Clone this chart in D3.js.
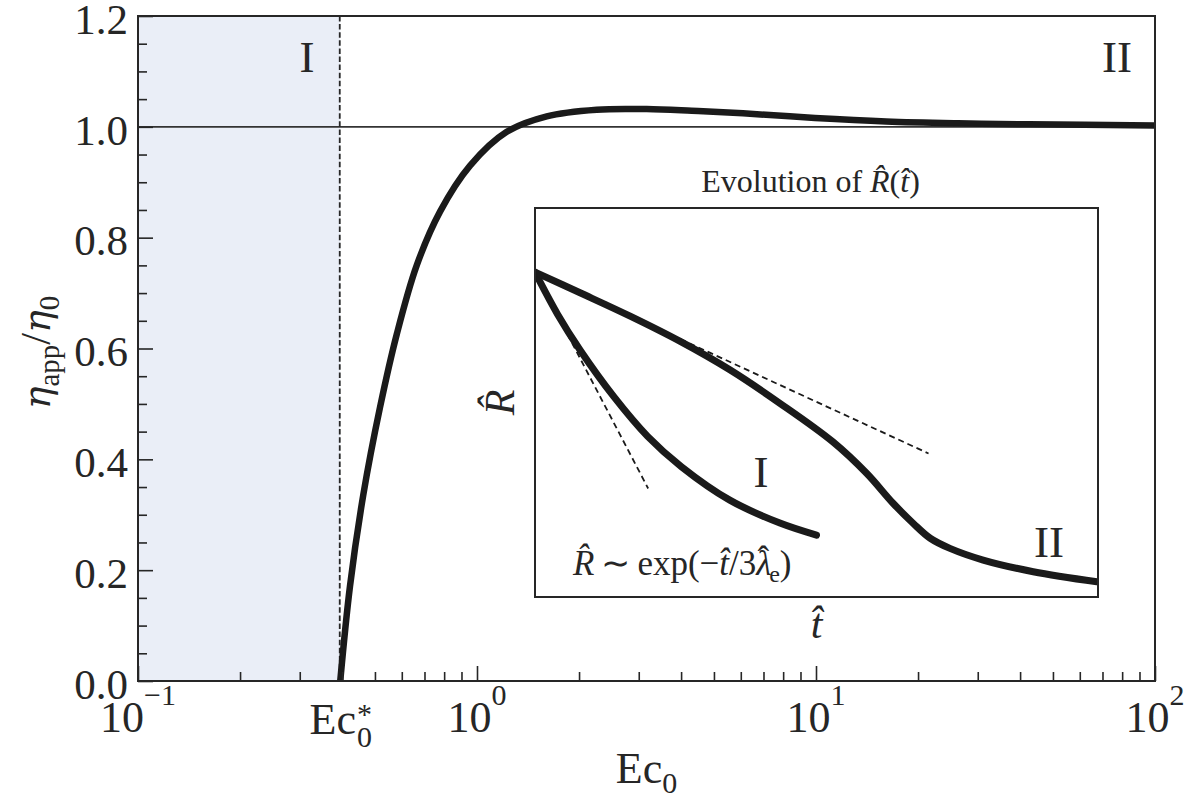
<!DOCTYPE html>
<html>
<head>
<meta charset="utf-8">
<script src="https://cdn.jsdelivr.net/npm/d3@7"></script>
<style>
  body { margin: 0; background: #fff; }
  text { font-family: "Liberation Serif", serif; fill: #262626; }
</style>
</head>
<body>
<svg id="chart" width="1195" height="798"></svg>
<script>
// main curve: apparent viscosity ratio vs Ec0
const ecValues = [0.395, 0.422, 0.462, 0.518, 0.58, 0.664, 0.778, 0.954, 1.224, 1.606, 2.255, 3.166, 4.3, 6.09, 9.93, 16.1, 26.2, 42.5, 100];
const etaRatio = [0, 0.171, 0.336, 0.495, 0.626, 0.75, 0.847, 0.93, 0.991, 1.019, 1.031, 1.032, 1.029, 1.0245, 1.016, 1.0097, 1.0064, 1.0045, 1.0026];
const ecStar = 0.395;

const yMajorTicks = [0, 0.2, 0.4, 0.6, 0.8, 1.0, 1.2];
const yTickLabels = ['0.0', '0.2', '0.4', '0.6', '0.8', '1.0', '1.2'];
const xMajorTicks = [0.1, 1, 10, 100];
const xTickExponents = ['\u22121', '0', '1', '2'];

// inset: R(t) in arbitrary units (0..1 on both axes)
const insetT_I = [0, 0.04, 0.08, 0.14, 0.2, 0.26, 0.346, 0.435, 0.5];
const insetR_I = [0.835, 0.727, 0.635, 0.515, 0.413, 0.335, 0.249, 0.19, 0.159];
const insetT_II = [0, 0.08, 0.169, 0.258, 0.346, 0.435, 0.529, 0.589, 0.636, 0.672, 0.702, 0.737, 0.796, 0.885, 0.998];
const insetR_II = [0.835, 0.782, 0.722, 0.657, 0.584, 0.498, 0.399, 0.318, 0.241, 0.189, 0.151, 0.125, 0.095, 0.065, 0.039];
const tangentSteepT = [0, 0.201];
const tangentSteepR = [0.835, 0.279];
const tangentShallowT = [0, 0.699];
const tangentShallowR = [0.835, 0.369];

const svg = d3.select('#chart');
const plotLeft = 138, plotRight = 1155, plotTop = 16, plotBottom = 681;
const ink = '#262626';

const x = d3.scaleLog().domain([0.1, 100]).range([plotLeft, plotRight]);
const y = d3.scaleLinear().domain([0, 1.2]).range([plotBottom, plotTop]);

const defs = svg.append('defs');

// region I shading
svg.append('rect')
  .attr('x', x(0.1))
  .attr('y', plotTop)
  .attr('width', x(ecStar) - x(0.1))
  .attr('height', plotBottom - plotTop)
  .attr('fill', '#eaeef7');

defs.append('clipPath').attr('id', 'plot-clip')
  .append('rect')
  .attr('x', plotLeft).attr('y', plotTop)
  .attr('width', plotRight - plotLeft).attr('height', plotBottom - plotTop);

// reference line at 1
svg.append('line')
  .attr('x1', plotLeft).attr('x2', plotRight)
  .attr('y1', y(1)).attr('y2', y(1))
  .attr('stroke', '#333').attr('stroke-width', 1.6);

// Ec* dashed line
svg.append('line')
  .attr('x1', x(ecStar) - 0.5).attr('x2', x(ecStar) - 0.5)
  .attr('y1', plotTop).attr('y2', plotBottom)
  .attr('stroke', ink).attr('stroke-width', 1.8)
  .attr('stroke-dasharray', '5.5,2.6');

const mainData = ecValues.map((d, i) => ({ ec: d, eta: etaRatio[i] }));
const mainLine = d3.line()
  .x(d => x(d.ec))
  .y(d => y(d.eta))
  .curve(d3.curveCatmullRom.alpha(0.5));

svg.append('path')
  .datum(mainData)
  .attr('clip-path', 'url(#plot-clip)')
  .attr('fill', 'none')
  .attr('stroke', '#1a1a1a')
  .attr('stroke-width', 6.5)
  .attr('d', mainLine);

// Axes (ticks inside, labels drawn separately where needed)
const yMinor = d3.range(0, 1.2001, 0.05).filter(v => Math.abs(v / 0.2 - Math.round(v / 0.2)) > 1e-6);

const yAxis = svg.append('g')
  .attr('transform', `translate(${plotLeft},0)`)
  .call(d3.axisLeft(y).tickValues(yMajorTicks).tickSize(-15).tickPadding(10)
    .tickFormat((d, i) => yTickLabels[i]));
yAxis.selectAll('text')
  .attr('dy', '0.4em')
  .style('font-size', '43px').attr('fill', ink).style('font-family', '"Liberation Serif", serif');

const yMinorAxis = svg.append('g')
  .attr('transform', `translate(${plotLeft},0)`)
  .call(d3.axisLeft(y).tickValues(yMinor).tickSize(-9).tickFormat(''));

const xMinor = [];
[0.1, 1, 10].forEach(dec => { for (let k = 2; k <= 9; k++) xMinor.push(k * dec); });

const xAxis = svg.append('g')
  .attr('transform', `translate(0,${plotBottom})`)
  .call(d3.axisBottom(x).tickValues(xMajorTicks).tickSize(-15).tickFormat(''));
const xMinorAxis = svg.append('g')
  .attr('transform', `translate(0,${plotBottom})`)
  .call(d3.axisBottom(x).tickValues(xMinor).tickSize(-9).tickFormat(''));

[yAxis, yMinorAxis, xAxis, xMinorAxis].forEach(a => {
  a.select('.domain').remove();
  a.selectAll('line').attr('stroke', ink).attr('stroke-width', 1.6);
});

// x tick labels 10^n
xMajorTicks.forEach((v, i) => {
  const t = svg.append('text')
    .attr('x', x(v)).attr('y', 732)
    .attr('text-anchor', 'middle')
    .style('font-size', '44px');
  t.append('tspan').text('10');
  t.append('tspan').attr('dy', -27).style('font-size', '30px').text(xTickExponents[i]);
});

// Ec0* label
(function () {
  const g = svg.append('g');
  const ec = g.append('text').attr('y', 734).style('font-size', '44px').text('Ec');
  const w = ec.node().getComputedTextLength();
  const sub = g.append('text').attr('y', 747).style('font-size', '30px').text('0');
  const ws = sub.node().getComputedTextLength();
  const star = g.append('text').attr('y', 724).style('font-size', '30px').text('*');
  const x0 = x(ecStar) - (w + ws) / 2;
  ec.attr('x', x0);
  sub.attr('x', x0 + w + 1);
  star.attr('x', x0 + w + 1);
})();

// x axis title
const xTitle = svg.append('text')
  .attr('x', (plotLeft + plotRight) / 2).attr('y', 783)
  .attr('text-anchor', 'middle')
  .style('font-size', '44px');
xTitle.append('tspan').text('Ec');
xTitle.append('tspan').attr('dy', 10).style('font-size', '30px').text('0');

// y axis title
const yTitle = svg.append('text')
  .attr('transform', `translate(50,${(plotTop + plotBottom) / 2 + 4}) rotate(-90)`)
  .attr('text-anchor', 'middle')
  .style('font-size', '42px');
yTitle.append('tspan').style('font-style', 'italic').style('font-family', '"DejaVu Serif", serif').style('font-size', '38px').text('\u03b7');
yTitle.append('tspan').attr('dy', 9).style('font-size', '29px').text('app');
yTitle.append('tspan').attr('dy', -9).text('/');
yTitle.append('tspan').style('font-style', 'italic').style('font-family', '"DejaVu Serif", serif').style('font-size', '38px').text('\u03b7');
yTitle.append('tspan').attr('dy', 9).style('font-size', '29px').text('0');

// region labels
svg.append('text').attr('x', 307).attr('y', 72).attr('text-anchor', 'middle')
  .style('font-size', '45px').text('I');
svg.append('text').attr('x', 1117).attr('y', 72).attr('text-anchor', 'middle')
  .style('font-size', '45px').text('II');

// frame
svg.append('rect')
  .attr('x', plotLeft).attr('y', plotTop)
  .attr('width', plotRight - plotLeft).attr('height', plotBottom - plotTop)
  .attr('fill', 'none').attr('stroke', ink).attr('stroke-width', 2);

// ---------- inset ----------
const iLeft = 535, iRight = 1098, iTop = 208, iBottom = 597;
const xi = d3.scaleLinear().domain([0, 1]).range([iLeft, iRight]);
const yi = d3.scaleLinear().domain([0, 1]).range([iBottom, iTop]);

svg.append('rect')
  .attr('x', iLeft).attr('y', iTop)
  .attr('width', iRight - iLeft).attr('height', iBottom - iTop)
  .attr('fill', '#fff');

defs.append('clipPath').attr('id', 'inset-clip')
  .append('rect')
  .attr('x', iLeft).attr('y', iTop)
  .attr('width', iRight - iLeft).attr('height', iBottom - iTop);

const insetLine = d3.line()
  .x(d => xi(d[0]))
  .y(d => yi(d[1]))
  .curve(d3.curveCatmullRom.alpha(0.5));

const gi = svg.append('g').attr('clip-path', 'url(#inset-clip)');

[[tangentSteepT, tangentSteepR], [tangentShallowT, tangentShallowR]].forEach(([ts, rs]) => {
  gi.append('path')
    .datum(ts.map((t, i) => [t, rs[i]]))
    .attr('fill', 'none')
    .attr('stroke', '#1a1a1a')
    .attr('stroke-width', 1.8)
    .attr('stroke-dasharray', '6,4')
    .attr('d', d3.line().x(d => xi(d[0])).y(d => yi(d[1])));
});

[[insetT_I, insetR_I], [insetT_II, insetR_II]].forEach(([ts, rs]) => {
  gi.append('path')
    .datum(ts.map((t, i) => [t, rs[i]]))
    .attr('fill', 'none')
    .attr('stroke', '#1a1a1a')
    .attr('stroke-width', 7)
    .attr('stroke-linecap', 'round')
    .attr('d', insetLine);
});

svg.append('rect')
  .attr('x', iLeft).attr('y', iTop)
  .attr('width', iRight - iLeft).attr('height', iBottom - iTop)
  .attr('fill', 'none').attr('stroke', ink).attr('stroke-width', 2);

// inset labels
svg.append('text').attr('x', 761).attr('y', 487).attr('text-anchor', 'middle')
  .style('font-size', '45px').text('I');
svg.append('text').attr('x', 1049).attr('y', 557).attr('text-anchor', 'middle')
  .style('font-size', '45px').text('II');

const title = svg.append('text')
  .attr('x', (iLeft + iRight) / 2 - 6).attr('y', 192)
  .attr('text-anchor', 'middle')
  .style('font-size', '32px');
title.append('tspan').text('Evolution of ');
title.append('tspan').style('font-style', 'italic').text('R\u0302');
title.append('tspan').text('(');
title.append('tspan').style('font-style', 'italic').text('t\u0302');
title.append('tspan').text(')');

svg.append('text')
  .attr('x', (iLeft + iRight) / 2).attr('y', 638)
  .attr('text-anchor', 'middle')
  .style('font-size', '42px').style('font-style', 'italic')
  .text('t\u0302');

svg.append('text')
  .attr('transform', `translate(514,${(iTop + iBottom) / 2}) rotate(-90)`)
  .attr('text-anchor', 'middle')
  .style('font-size', '42px').style('font-style', 'italic')
  .text('R\u0302');

const formula = svg.append('text')
  .attr('x', 573).attr('y', 575)
  .style('font-size', '35px');
formula.append('tspan').style('font-style', 'italic').text('R\u0302');
formula.append('tspan').text('\u2009\u223c\u2009exp(\u2212');
formula.append('tspan').style('font-style', 'italic').text('t\u0302');
formula.append('tspan').text('/3');
formula.append('tspan').style('font-style', 'italic').text('\u03bb');
formula.append('tspan').attr('dx', -14).attr('dy', -4).text('\u02c6');
formula.append('tspan').attr('dx', 0).attr('dy', 11).style('font-size', '24px').text('e');
formula.append('tspan').attr('dy', -7).text(')');
</script>
</body>
</html>
